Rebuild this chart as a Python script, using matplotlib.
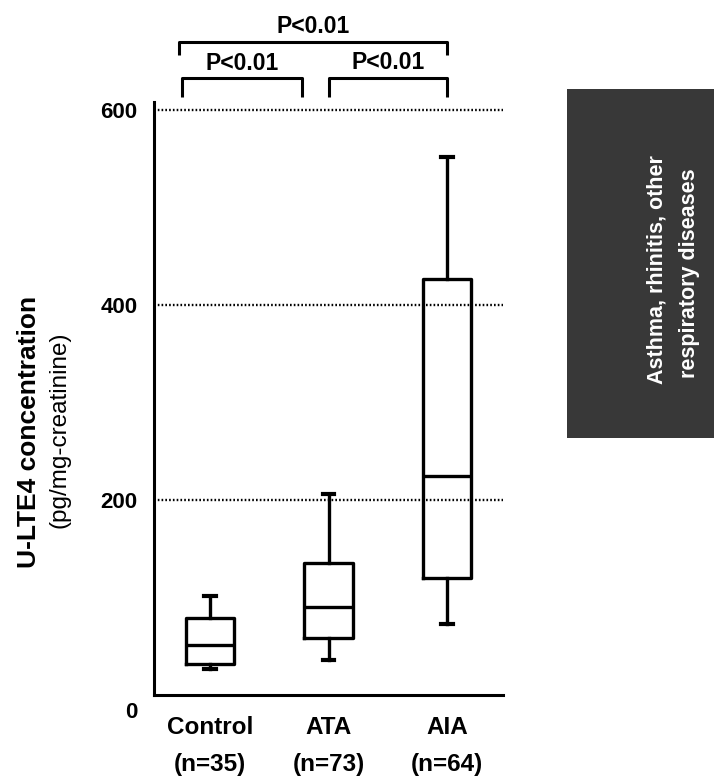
import matplotlib
matplotlib.use("Agg")
import matplotlib.pyplot as plt
from matplotlib.patches import Rectangle
from matplotlib.transforms import ScaledTranslation

plt.rcParams['font.family'] = ['Liberation Sans', 'DejaVu Sans']

# ---- data ----
groups = ["Control", "ATA", "AIA"]
n_labels = ["(n=35)", "(n=73)", "(n=64)"]
whislo = [27, 36, 73]
q1 = [32, 58, 120]
med = [51, 90, 225]
q3 = [79, 135, 427]
whishi = [102, 206, 552]
yticks = [0, 200, 400, 600]
p_text = "P<0.01"

fig = plt.figure(figsize=(7.18, 7.82), dpi=100)
ax = fig.add_axes([154/718, 1-695/782, (503-154)/718, (695-102)/782])

stats = []
for i, g in enumerate(groups):
    stats.append(dict(label=f"{g}\n{n_labels[i]}", whislo=whislo[i], q1=q1[i], med=med[i],
                      q3=q3[i], whishi=whishi[i], fliers=[]))
positions = [1, 2, 3]
lw = 2.4
ax.bxp(stats, positions=positions, widths=0.41, showfliers=False, capwidths=0.1,
       boxprops=dict(color='black', linewidth=lw),
       whiskerprops=dict(color='black', linewidth=lw),
       capprops=dict(color='black', linewidth=lw + 0.6),
       medianprops=dict(color='black', linewidth=lw))

ax.set_xlim(0.527, 3.473)
ax.set_ylim(0, 608)
ax.set_yticks(yticks)
ax.set_yticklabels([str(t) for t in yticks])
for t in yticks[1:]:
    ax.axhline(t, color='black', linewidth=1.7, linestyle=(0, (0.7, 0.9)), zorder=0)

for s in ['top', 'right']:
    ax.spines[s].set_visible(False)
for s in ['left', 'bottom']:
    ax.spines[s].set_linewidth(2.2)

ax.tick_params(axis='y', length=0, pad=12, labelsize=16)
ax.tick_params(axis='x', length=0, pad=15, labelsize=17.5)
for lab in ax.get_yticklabels() + ax.get_xticklabels():
    lab.set_fontweight('bold')
for lab in ax.get_xticklabels():
    lab.set_linespacing(1.8)

# shift the "0" label down slightly like the reference
zero_lab = ax.get_yticklabels()[0]
zero_lab.set_transform(zero_lab.get_transform() + ScaledTranslation(0, -11/72, fig.dpi_scale_trans))

# ---- significance brackets ----
def bracket(x0, x1, y, h, ty):
    ax.plot([x0, x0, x1, x1], [y - h, y, y, y - h], color='black', linewidth=2.2,
            clip_on=False, solid_capstyle='butt')
    ax.text((x0 + x1) / 2, ty, p_text, ha='center', va='center', fontsize=16.5,
            fontweight='bold', clip_on=False)

bracket(0.74, 3.0, 670, 14, 685)
bracket(0.76, 1.78, 633, 20, 647)
bracket(2.0, 3.0, 633, 20, 649)

# ---- y axis label (two lines) ----
fig.text(29/718, 1-432/782, "U-LTE4 concentration", rotation=90, ha='center', va='center',
         fontsize=19, fontweight='bold')
fig.text(60/718, 1-430/782, "(pg/mg-creatinine)", rotation=90, ha='center', va='center',
         fontsize=17.5)

# ---- dark side panel ----
fig.patches.append(Rectangle((567/718, 1-438/782), 147/718, 349/782, transform=fig.transFigure,
                             facecolor='#383838', edgecolor='none', zorder=0))
fig.text(657/718, 1-270/782, "Asthma, rhinitis, other", rotation=90, ha='center', va='center',
         fontsize=15.5, fontweight='bold', color='white')
fig.text(689/718, 1-273/782, "respiratory diseases", rotation=90, ha='center', va='center',
         fontsize=15.5, fontweight='bold', color='white')

fig.savefig("out.png", dpi=100)
